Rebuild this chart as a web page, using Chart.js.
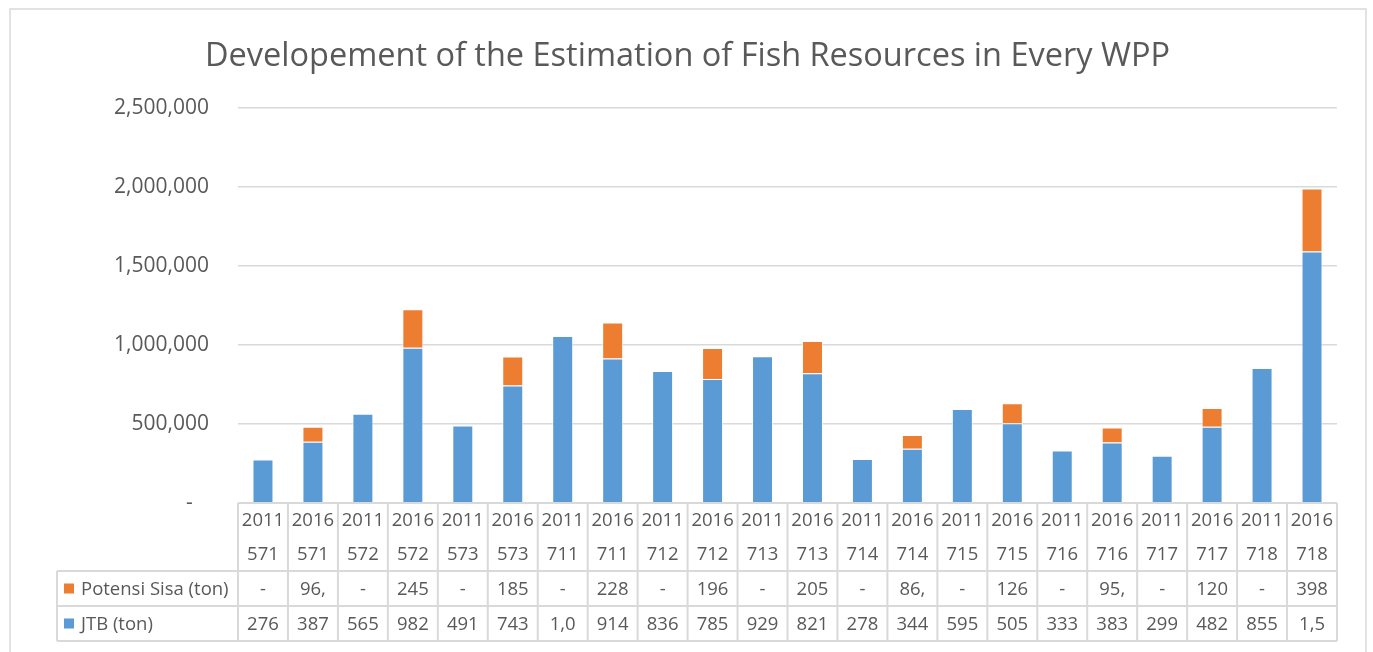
<!DOCTYPE html>
<html>
<head>
<meta charset="utf-8">
<script src="https://cdn.jsdelivr.net/npm/chart.js@4.4.1/dist/chart.umd.min.js"></script>
<style>
  html, body { margin: 0; padding: 0; background: #fff; }
  #wrap { width: 1373px; height: 652px; position: relative; }
</style>
</head>
<body>
<div id="wrap"><canvas id="chart"></canvas></div>
<script>
const years = ["2011","2016","2011","2016","2011","2016","2011","2016","2011","2016","2011",
               "2016","2011","2016","2011","2016","2011","2016","2011","2016","2011","2016"];
const wpps = ["571","571","572","572","573","573","711","711","712","712","713",
              "713","714","714","715","715","716","716","717","717","718","718"];
const jtb = [276000, 387000, 565000, 982000, 491000, 743000, 1057000, 914000, 836000, 785000, 929000,
             821000, 278000, 344000, 595000, 505000, 333000, 383000, 299000, 482000, 855000, 1592000];
const potensiSisa = [0, 96000, 0, 245000, 0, 185000, 0, 228000, 0, 196000, 0,
                     205000, 0, 86000, 0, 126000, 0, 95000, 0, 120000, 0, 398000];
const yTicks = [0, 500000, 1000000, 1500000, 2000000, 2500000];

const BLUE = "#5B9BD5", ORANGE = "#ED7D31", GRID = "#d9d9d9", TEXT = "#595959";
const FONT = "'Open Sans', Lato, sans-serif";

function fmt(v) {
  return v === 0 ? "-" : v.toLocaleString("en-US");
}

// excel cuts numbers that don't fit the cell
function fitText(ctx, s, maxW) {
  while (s.length > 1 && ctx.measureText(s).width > maxW) s = s.slice(0, -1);
  return s;
}

const dataTable = {
  id: "dataTable",
  beforeDraw(chart) {
    const ctx = chart.ctx;
    ctx.save();
    ctx.strokeStyle = GRID;
    ctx.lineWidth = 1.5;
    ctx.strokeRect(10, 9, 1356, 700);
    ctx.restore();
  },
  afterDraw(chart) {
    const { ctx, chartArea: a, scales: { x } } = chart;
    const n = years.length;
    const cw = (a.right - a.left) / n;
    const top = a.bottom, r1 = top + 68, r2 = r1 + 35, r3 = r2 + 35;
    const legL = 57;

    ctx.save();
    ctx.strokeStyle = GRID;
    ctx.lineWidth = 2;
    ctx.beginPath();
    ctx.moveTo(a.left, top); ctx.lineTo(a.right, top);
    [r1, r2, r3].forEach(y => { ctx.moveTo(legL, y); ctx.lineTo(a.right, y); });
    ctx.moveTo(legL, r1); ctx.lineTo(legL, r3);
    for (let i = 0; i <= n; i++) {
      const xx = a.left + i * cw;
      ctx.moveTo(xx, top); ctx.lineTo(xx, r3);
    }
    ctx.stroke();

    ctx.fillStyle = TEXT;
    ctx.font = "18.5px " + FONT;
    ctx.textAlign = "center";
    ctx.textBaseline = "middle";
    for (let i = 0; i < n; i++) {
      const cx = x.getPixelForValue(i);
      ctx.fillText(years[i], cx, top + 18);
      ctx.fillText(wpps[i], cx, top + 52);
      ctx.fillText(fitText(ctx, fmt(potensiSisa[i]), cw - 16), cx, (r1 + r2) / 2 + 1);
      ctx.fillText(fitText(ctx, fmt(jtb[i]), cw - 16), cx, (r2 + r3) / 2 + 1);
    }

    // legend keys
    const rows = [
      { label: "Potensi Sisa (ton)", color: ORANGE, y: (r1 + r2) / 2 },
      { label: "JTB (ton)", color: BLUE, y: (r2 + r3) / 2 }
    ];
    ctx.textAlign = "left";
    rows.forEach(r => {
      ctx.fillStyle = r.color;
      ctx.fillRect(64, r.y - 5, 10, 10);
      ctx.fillStyle = TEXT;
      ctx.fillText(r.label, 81, r.y + 1);
    });
    ctx.restore();
  }
};

new Chart(document.getElementById("chart"), {
  type: "bar",
  data: {
    labels: years.map((y, i) => y + " " + wpps[i]),
    datasets: [
      { label: "JTB (ton)", data: jtb, backgroundColor: BLUE,
        borderColor: "rgba(255,255,255,0.7)", borderWidth: 1 },
      { label: "Potensi Sisa (ton)", data: potensiSisa, backgroundColor: ORANGE,
        borderColor: "rgba(255,255,255,0.7)", borderWidth: 1 }
    ]
  },
  options: {
    responsive: true,
    maintainAspectRatio: false,
    animation: false,
    layout: { padding: { left: 38, right: 36, top: 0, bottom: 149 } },
    datasets: { bar: { categoryPercentage: 1, barPercentage: 0.42 } },
    scales: {
      x: { stacked: true, display: false },
      y: {
        stacked: true,
        min: 0,
        max: yTicks[yTicks.length - 1],
        afterFit(s) { s.width = 200; },
        afterBuildTicks(s) { s.ticks = yTicks.map(v => ({ value: v })); },
        border: { display: false },
        grid: { color: GRID, lineWidth: 1.5, drawTicks: false },
        ticks: {
          padding: 29,
          color: TEXT,
          font: { family: FONT, size: 21 },
          callback: v => v === 0 ? "-   " : v.toLocaleString("en-US")
        }
      }
    },
    plugins: {
      legend: { display: false },
      tooltip: { enabled: false },
      title: {
        display: true,
        text: "Developement of the Estimation of Fish Resources in Every WPP",
        color: TEXT,
        font: { family: FONT, size: 32.5, weight: "normal" },
        padding: { top: 37, bottom: 32 }
      }
    }
  },
  plugins: [dataTable]
});
</script>
</body>
</html>
